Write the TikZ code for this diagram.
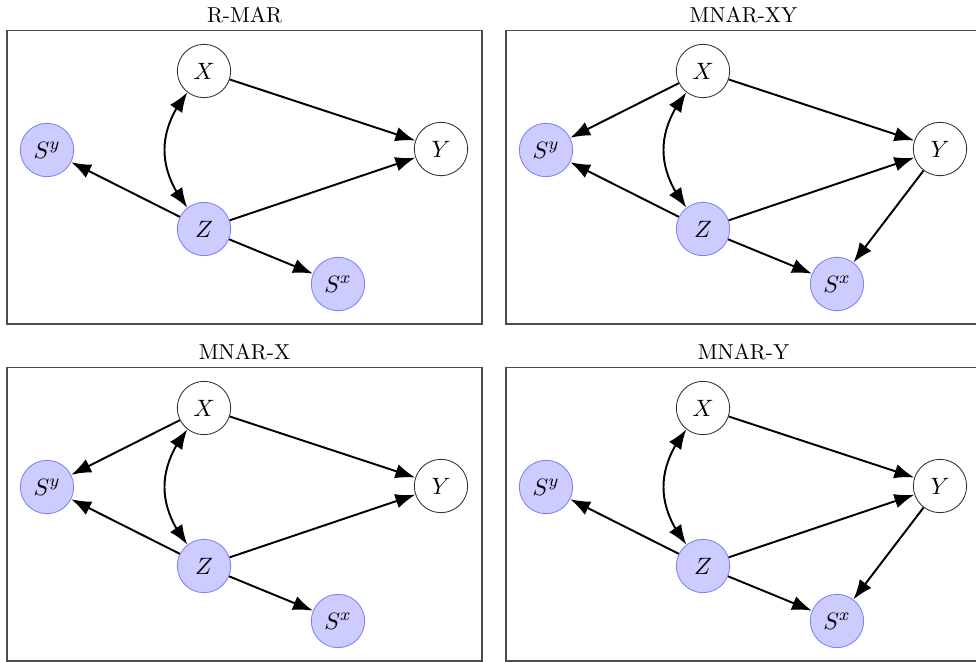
\documentclass[tikz,border=0pt]{standalone}
\usetikzlibrary{arrows.meta,bending}
\begin{document}
\begin{tikzpicture}[x=0.463pt,y=-0.463pt,
  lbl/.style={font=\fontsize{11}{13}\selectfont},
  obs/.style={lbl,circle,draw=black!80,line width=0.4pt,fill=white,minimum size=24.7pt,inner sep=0pt},
  sel/.style={lbl,circle,draw=blue!50,line width=0.4pt,fill=blue!20,minimum size=24.7pt,inner sep=0pt},
  edge/.style={-{Latex[length=9.2pt,width=6.8pt]},line width=0.9pt},
  dbl/.style={{Latex[length=9.2pt,width=6.8pt]}-{Latex[length=9.2pt,width=6.8pt]},line width=0.9pt},
  curv/.style={bend right=38,looseness=1.1},
  frame/.style={draw=black!70,line width=0.7pt},
  ttl/.style={anchor=base,font=\normalsize}]
\useasboundingbox (0,0) rectangle (976,662);
% Panel A: R-MAR
\begin{scope}[shift={(0,0)}]
  \draw[frame] (7,30.5) rectangle (482,324);
  \node[ttl] (aT) at (244.5,22.3) {R-MAR};
  \node[obs] (aX) at (204,71) {$X$};
  \node[obs] (aY) at (441,149) {$Y$};
  \node[sel] (aSy) at (47,150) {$S^y$};
  \node[sel] (aZ) at (204,229) {$Z$};
  \node[sel] (aSx) at (338,284) {$S^x$};
  \draw[edge] (aX) -- (aY);
  \draw[edge] (aZ) -- (aY);
  \draw[edge] (aZ) -- (aSy);
  \draw[edge] (aZ) -- (aSx);
  \draw[dbl] (aX) to[curv] (aZ);
\end{scope}
% Panel B: MNAR-XY
\begin{scope}[shift={(499,0)}]
  \draw[frame] (7,30.5) rectangle (482,324);
  \node[ttl] (bT) at (244.5,22.3) {MNAR-XY};
  \node[obs] (bX) at (204,71) {$X$};
  \node[obs] (bY) at (441,149) {$Y$};
  \node[sel] (bSy) at (47,150) {$S^y$};
  \node[sel] (bZ) at (204,229) {$Z$};
  \node[sel] (bSx) at (338,284) {$S^x$};
  \draw[edge] (bX) -- (bY);
  \draw[edge] (bZ) -- (bY);
  \draw[edge] (bX) -- (bSy);
  \draw[edge] (bZ) -- (bSy);
  \draw[edge] (bZ) -- (bSx);
  \draw[edge] (bY) -- (bSx);
  \draw[dbl] (bX) to[curv] (bZ);
\end{scope}
% Panel C: MNAR-X
\begin{scope}[shift={(0,337)}]
  \draw[frame] (7,30.5) rectangle (482,324);
  \node[ttl] (cT) at (244.5,22.3) {MNAR-X};
  \node[obs] (cX) at (204,71) {$X$};
  \node[obs] (cY) at (441,149) {$Y$};
  \node[sel] (cSy) at (47,150) {$S^y$};
  \node[sel] (cZ) at (204,229) {$Z$};
  \node[sel] (cSx) at (338,284) {$S^x$};
  \draw[edge] (cX) -- (cY);
  \draw[edge] (cZ) -- (cY);
  \draw[edge] (cX) -- (cSy);
  \draw[edge] (cZ) -- (cSy);
  \draw[edge] (cZ) -- (cSx);
  \draw[dbl] (cX) to[curv] (cZ);
\end{scope}
% Panel D: MNAR-Y
\begin{scope}[shift={(499,337)}]
  \draw[frame] (7,30.5) rectangle (482,324);
  \node[ttl] (dT) at (244.5,22.3) {MNAR-Y};
  \node[obs] (dX) at (204,71) {$X$};
  \node[obs] (dY) at (441,149) {$Y$};
  \node[sel] (dSy) at (47,150) {$S^y$};
  \node[sel] (dZ) at (204,229) {$Z$};
  \node[sel] (dSx) at (338,284) {$S^x$};
  \draw[edge] (dX) -- (dY);
  \draw[edge] (dZ) -- (dY);
  \draw[edge] (dZ) -- (dSy);
  \draw[edge] (dZ) -- (dSx);
  \draw[edge] (dY) -- (dSx);
  \draw[dbl] (dX) to[curv] (dZ);
\end{scope}
\end{tikzpicture}
\end{document}
